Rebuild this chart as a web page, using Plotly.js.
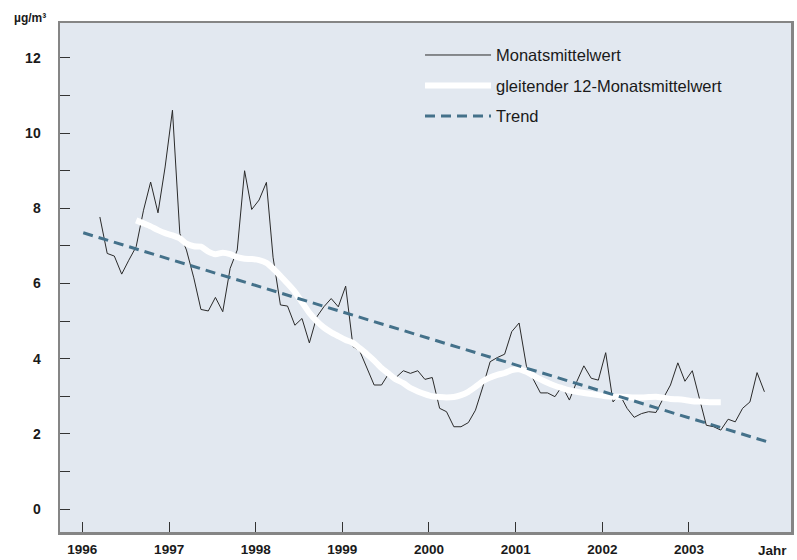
<!DOCTYPE html>
<html>
<head>
<meta charset="utf-8">
<script src="https://cdn.plot.ly/plotly-3.0.1.min.js"></script>
<style>html,body{margin:0;padding:0;background:#fff;}#chart{width:797px;height:560px;}</style>
</head>
<body>
<div id="chart"></div>
<script>
// Monthly mean values, March 1996 .. November 2003 (µg/m³)
const monthlyStart = [1996, 3];
const monthlyValues = [
  7.77, 6.80, 6.73, 6.25, 6.62, 6.98, 7.95, 8.70, 7.88, 9.10,
  10.61, 7.33, 6.89, 6.15, 5.31, 5.27, 5.63, 5.25, 6.40, 6.89,
  9.00, 7.97, 8.22, 8.69, 6.70, 5.43, 5.40, 4.89, 5.07, 4.42,
  5.11, 5.38, 5.60, 5.38, 5.93, 4.32, 4.21, 3.74, 3.30, 3.30,
  3.60, 3.50, 3.68, 3.61, 3.68, 3.45, 3.50, 2.68, 2.59, 2.19,
  2.19, 2.30, 2.63, 3.25, 3.92, 4.03, 4.12, 4.72, 4.95, 3.80,
  3.45, 3.09, 3.09, 2.99, 3.27, 2.90, 3.39, 3.81, 3.48, 3.43,
  4.16, 2.85, 3.05, 2.68, 2.44, 2.54, 2.59, 2.57, 2.95, 3.30,
  3.89, 3.40, 3.68, 2.90, 2.23, 2.19, 2.10, 2.39, 2.32, 2.68,
  2.85, 3.63, 3.12
];
// Moving 12-month mean, August 1996 .. May 2003
const movingStart = [1996, 8];
const movingValues = [
  7.68, 7.60, 7.52, 7.42, 7.34, 7.28, 7.20, 7.06, 6.99, 6.98,
  6.85, 6.78, 6.82, 6.78, 6.70, 6.66, 6.65, 6.62, 6.55, 6.40,
  6.20, 6.00, 5.78, 5.50, 5.22, 5.00, 4.83, 4.70, 4.60, 4.50,
  4.42, 4.28, 4.12, 3.95, 3.75, 3.60, 3.45, 3.35, 3.22, 3.13,
  3.06, 3.00, 2.98, 2.97, 2.98, 3.03, 3.12, 3.25, 3.40, 3.50,
  3.57, 3.62, 3.70, 3.72, 3.65, 3.55, 3.45, 3.36, 3.28, 3.22,
  3.16, 3.12, 3.09, 3.06, 3.03, 3.00, 2.99, 2.99, 2.98, 2.97,
  2.97, 2.98, 2.99, 2.96, 2.93, 2.92, 2.90, 2.87, 2.86, 2.85,
  2.84, 2.84
];
// Linear trend end points
const trendDates = ['1996-01-05', '2003-12-08'];
const trendValues = [7.35, 1.77];

const yearTicks = ['1996', '1997', '1998', '1999', '2000', '2001', '2002', '2003'];
const yTickVals = [0,1,2,3,4,5,6,7,8,9,10,11,12];
const yTickText = ['0','','2','','4','','6','','8','','10','','12'];

const seriesNames = ['Monatsmittelwert', 'gleitender 12-Monatsmittelwert', 'Trend'];

function monthDates(start, n) {
  const out = [];
  let y = start[0], m = start[1];
  for (let i = 0; i < n; i++) {
    out.push(y + '-' + String(m).padStart(2, '0') + '-15');
    m++; if (m > 12) { m = 1; y++; }
  }
  return out;
}

const font = 'Arial, "Liberation Sans", Helvetica, sans-serif';
const traces = [
  {
    x: monthDates(monthlyStart, monthlyValues.length), y: monthlyValues,
    type: 'scatter', mode: 'lines', name: seriesNames[0], legendgroup: 'a',
    line: {color: '#2a2a2a', width: 1}
  },
  {
    x: monthDates(movingStart, movingValues.length), y: movingValues,
    type: 'scatter', mode: 'lines', name: seriesNames[1], legendgroup: 'b',
    line: {color: '#ffffff', width: 6, shape: 'spline', smoothing: 0.6}
  },
  {
    x: trendDates, y: trendValues,
    type: 'scatter', mode: 'lines', name: seriesNames[2], legendgroup: 'c',
    line: {color: '#44718a', width: 3, dash: '10px,6px'}
  }
];

const layout = {
  width: 797, height: 560,
  margin: {l: 60, r: 6, t: 23, b: 28},
  paper_bgcolor: '#ffffff',
  plot_bgcolor: '#e2e8f0',
  font: {family: font, color: '#1a1a1a', size: 14},
  showlegend: true,
  legend: {
    x: 0.4925, y: 0.971, xanchor: 'left', yanchor: 'top',
    bgcolor: 'rgba(0,0,0,0)', borderwidth: 0,
    font: {family: font, size: 16.5, color: '#1a1a1a'},
    itemwidth: 66, tracegroupgap: 6
  },
  xaxis: {
    type: 'date',
    range: ['1995-09-29', '2004-03-06'],
    tickvals: yearTicks.map(y => y + '-01-01'),
    ticktext: yearTicks,
    ticks: 'inside', ticklen: 10, tickwidth: 1, tickcolor: '#333',
    ticklabelstandoff: 3,
    tickfont: {family: font, size: 13.5, color: '#1a1a1a', weight: 'bold'},
    showgrid: false, zeroline: false,
    showline: true, mirror: true, linecolor: '#858585', linewidth: 2.5
  },
  yaxis: {
    range: [-0.61, 12.93],
    tickvals: yTickVals, ticktext: yTickText,
    ticks: 'inside', ticklen: 10, tickwidth: 1, tickcolor: '#333',
    ticklabelstandoff: 14,
    tickfont: {family: font, size: 14, color: '#1a1a1a', weight: 'bold'},
    showgrid: false, zeroline: false,
    showline: true, mirror: true, linecolor: '#858585', linewidth: 2.5
  },
  annotations: [
    {text: 'µg/m³', xref: 'paper', yref: 'paper', x: -0.066, y: 1.01,
     xanchor: 'left', yanchor: 'middle', showarrow: false,
     font: {family: font, size: 12, color: '#1a1a1a', weight: 'bold'}},
    {text: 'Jahr', xref: 'paper', yref: 'paper', x: 0.975, y: -0.037,
     xanchor: 'center', yanchor: 'middle', showarrow: false,
     font: {family: font, size: 13.5, color: '#1a1a1a', weight: 'bold'}}
  ]
};

Plotly.newPlot('chart', traces, layout, {staticPlot: true, displayModeBar: false});
</script>
</body>
</html>
